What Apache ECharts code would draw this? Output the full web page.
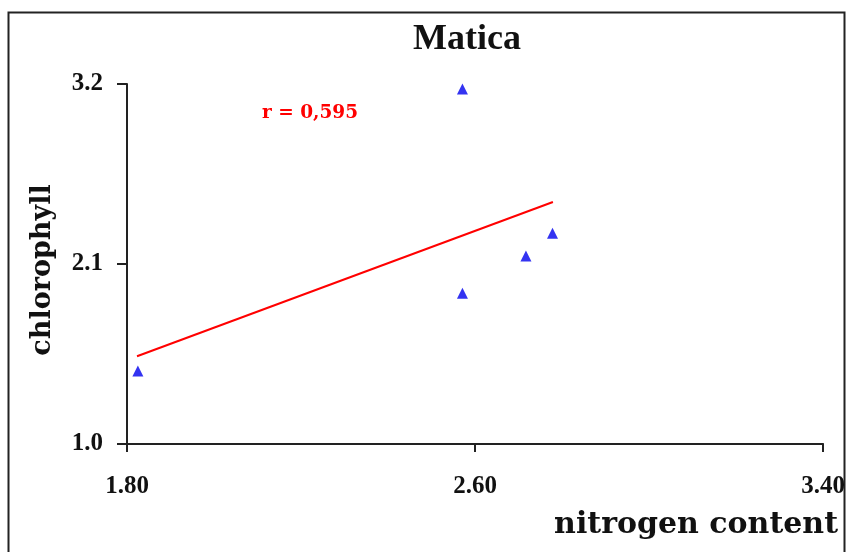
<!DOCTYPE html>
<html lang="en">
<head>
  <meta charset="UTF-8">
  <title>Matica</title>
  <style>
    html, body { margin: 0; padding: 0; background: #fff; }
    #main { width: 848px; height: 552px; }
  </style>
</head>
<body>
  <div id="main"></div>
  <script src="https://cdn.jsdelivr.net/npm/echarts@6/dist/echarts.min.js"></script>
  <script>
    // measured points (nitrogen content, chlorophyll)
    var nitrogen = [1.825, 2.571, 2.571, 2.717, 2.778];
    var chlorophyll = [1.446, 3.17, 1.921, 2.149, 2.288];
    // regression line ends
    var trendX = [1.823, 2.779];
    var trendY = [1.536, 2.479];
    var xTicks = [1.80, 2.60, 3.40];
    var yTicks = [1.0, 2.1, 3.2];
    var rText = 'r = 0,595';

    var serif = '"Liberation Serif", "DejaVu Serif", serif';
    // wider face for the spaced-out labels
    var wide = '"DejaVu Serif", "Liberation Serif", serif';

    var pts = nitrogen.map(function (x, i) { return [x, chlorophyll[i]]; });
    var line = trendX.map(function (x, i) { return [x, trendY[i]]; });

    var chart = echarts.init(document.getElementById('main'));
    chart.setOption({
      backgroundColor: '#fff',
      animation: false,
      title: {
        text: 'Matica',
        left: 462,
        textAlign: 'center',
        top: 17,
        textStyle: { fontFamily: serif, fontSize: 36, fontWeight: 'bold', color: '#111' }
      },
      grid: { left: 127, right: 23, top: 84, bottom: 108 },
      xAxis: {
        type: 'value',
        min: xTicks[0],
        max: xTicks[xTicks.length - 1],
        interval: 0.8,
        splitLine: { show: false },
        axisLine: { lineStyle: { color: '#222', width: 2 } },
        axisTick: { length: 8, lineStyle: { color: '#222', width: 2 } },
        axisLabel: {
          margin: 30,
          fontFamily: serif, fontSize: 25, fontWeight: 'bold', color: '#111',
          formatter: function (v) { return v.toFixed(2); }
        }
      },
      yAxis: {
        type: 'value',
        min: yTicks[0],
        max: yTicks[yTicks.length - 1],
        interval: 1.1,
        name: 'chlorophyll',
        nameLocation: 'middle',
        nameGap: 71,
        nameTextStyle: { fontFamily: wide, fontSize: 27, fontWeight: 'bold', color: '#111', padding: [0, 12, 0, 0] },
        splitLine: { show: false },
        axisLine: { lineStyle: { color: '#222', width: 2 } },
        axisTick: { length: 10, lineStyle: { color: '#222', width: 2 } },
        axisLabel: {
          margin: 24,
          padding: [0, 0, 11, 0],
          fontFamily: serif, fontSize: 25, fontWeight: 'bold', color: '#111',
          formatter: function (v) { return v.toFixed(1); }
        }
      },
      graphic: [
        {
          type: 'rect',
          shape: { x: 8.5, y: 12.5, width: 836, height: 560 },
          style: { fill: 'none', stroke: '#222', lineWidth: 2 },
          z: 0
        },
        {
          type: 'text',
          left: 262,
          top: 104,
          style: { text: rText, fontFamily: wide, fontSize: 18.5, fontWeight: 'bold', fill: '#f00' }
        },
        {
          type: 'text',
          right: 10,
          top: 510,
          style: { text: 'nitrogen content', fontFamily: wide, fontSize: 30, fontWeight: 'bold', fill: '#111' }
        }
      ],
      series: [
        {
          type: 'line',
          data: line,
          symbol: 'none',
          lineStyle: { color: '#f00', width: 2 },
          z: 2
        },
        {
          type: 'scatter',
          data: pts,
          symbol: 'triangle',
          symbolSize: 11,
          itemStyle: { color: '#0000ee' },
          z: 3
        }
      ]
    });
  </script>
</body>
</html>
